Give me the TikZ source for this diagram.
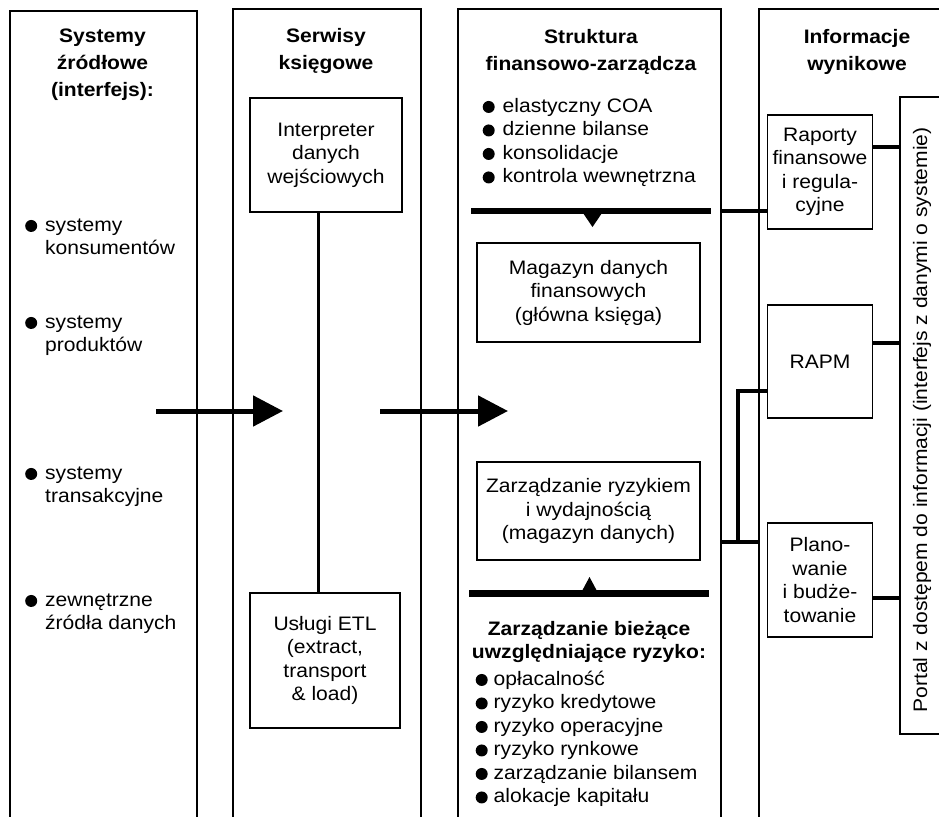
\documentclass[tikz,border=0pt]{standalone}
\usepackage{fontspec}
\setmainfont{Liberation Sans}[FakeStretch=1.08]
\usetikzlibrary{arrows.meta,positioning,calc}

\newcommand{\txtsize}{\fontsize{19.5}{23.5}\selectfont}
\newcommand{\bul}{\tikz[baseline=-5.5pt]\fill (0pt,0pt) circle[radius=6pt];}

\begin{document}
\begin{tikzpicture}[
  x=1pt, y=-1pt,
  col/.style={draw, line width=1.6pt, anchor=north west, inner sep=0pt, minimum height=830pt},
  head/.style={align=center, font=\bfseries\fontsize{19.5}{27}\selectfont},
  box/.style={draw, line width=1.6pt, align=center, inner sep=0pt, font=\txtsize},
  item/.style={anchor=west, inner sep=0pt, font=\txtsize},
  link/.style={line width=3.5pt},
  bar/.style={line width=6.5pt},
  flow/.style={line width=5pt, -{Triangle[length=30pt, width=30pt]}},
]
  \useasboundingbox (0,0) rectangle (939,816);
  \clip (0,0) rectangle (939,816);

  % columns
  \node[col, minimum width=187pt] (src) at (9,10) {};
  \node[col, minimum width=188pt] (acc) at (232,8) {};
  \node[col, minimum width=263pt] (fin) at (457,8) {};
  \node[col, minimum width=200pt] (out) at (758,8) {};

  \node[head] (srchead) at (102.5,65) {Systemy\\źródłowe\\(interfejs):};
  \node[head] (acchead) at (326,51.5) {Serwisy\\księgowe};
  \node[head] (finhead) at (591,51.5) {Struktura\\finansowo-zarządcza};
  \node[head] (outhead) at (857,51.5) {Informacje\\wynikowe};

  % source systems
  \node[item] (cons) at (25,238.5) {\begin{tabular}{@{}l@{\hspace{8pt}}l@{}}\bul & systemy\\ & konsumentów\end{tabular}};
  \node[item] (prod) at (25,335.5) {\begin{tabular}{@{}l@{\hspace{8pt}}l@{}}\bul & systemy\\ & produktów\end{tabular}};
  \node[item] (trans) at (25,486.5) {\begin{tabular}{@{}l@{\hspace{8pt}}l@{}}\bul & systemy\\ & transakcyjne\end{tabular}};
  \node[item] (ext) at (25,613.5) {\begin{tabular}{@{}l@{\hspace{8pt}}l@{}}\bul & zewnętrzne\\ & źródła danych\end{tabular}};

  % accounting services
  \node[box, minimum width=152pt, minimum height=114pt] (intp) at (326,155) {Interpreter\\danych\\wejściowych};
  \node[box, minimum width=150pt, minimum height=135pt] (etl) at (325,660.5) {Usługi ETL\\(extract,\\transport\\\& load)};
  \draw[line width=3pt] ([xshift=-8pt]intp.south) -- ([xshift=-7pt]etl.north);

  % main flow
  \coordinate (f1s) at (156,411);
  \coordinate (f1e) at (283,411);
  \coordinate (f2s) at (380,411);
  \coordinate (f2e) at (508,411);
  \draw[flow] (f1s) -- (f1e);
  \draw[flow] (f2s) -- (f2e);

  % finance structure
  \node[item] (feat) at (482.5,143) {\begin{tabular}{@{}l@{\hspace{8pt}}l@{}}\bul & elastyczny COA\\ \bul & dzienne bilanse\\ \bul & konsolidacje\\ \bul & kontrola wewnętrzna\end{tabular}};
  \coordinate (tb) at (471,211);
  \draw[bar] (tb) -- (711,211);
  \fill (583,213) -- (602,213) -- (592.5,227) -- cycle;
  \node[box, minimum width=223pt, minimum height=99pt] (mag) at (588.5,292.5) {Magazyn danych\\finansowych\\(główna księga)};
  \node[box, minimum width=223pt, minimum height=98pt] (risk) at (588.5,511) {Zarządzanie ryzykiem\\i wydajnością\\(magazyn danych)};
  \coordinate (bb) at (469,593.5);
  \draw[bar] (bb) -- (709,593.5);
  \fill (582,591) -- (597,591) -- (589.5,577) -- cycle;
  \node[head, font=\bfseries\fontsize{19.5}{23}\selectfont] (riskhead) at (589,641.5) {Zarządzanie bieżące\\uwzględniające ryzyko:};
  \node[item] (riskl) at (475.5,739.5) {\begin{tabular}{@{}l@{\hspace{6pt}}l@{}}\bul & opłacalność\\ \bul & ryzyko kredytowe\\ \bul & ryzyko operacyjne\\ \bul & ryzyko rynkowe\\ \bul & zarządzanie bilansem\\ \bul & alokacje kapitału\end{tabular}};

  % output information
  \node[box, minimum width=105pt, minimum height=114pt] (rap) at (820,172) {Raporty\\finansowe\\i regula-\\cyjne};
  \node[box, minimum width=105pt, minimum height=113pt] (rapm) at (820,361.5) {RAPM};
  \node[box, minimum width=105pt, minimum height=114pt] (plan) at (820,580) {Plano-\\wanie\\i budże-\\towanie};
  \node[draw, line width=1.6pt, anchor=north west, inner sep=0pt, minimum width=80pt, minimum height=637pt] (portal) at (899,96) {};
  \node[rotate=90, font=\txtsize] (portaltxt) at (922,420) {Portal z dostępem do informacji (interfejs z danymi o systemie)};

  \draw[link] (fin.east |- tb) -- (rap.west |- tb);
  \draw[link] ([yshift=25pt]rap.east) -- ([yshift=25pt]rap.east -| portal.west);
  \draw[link] ([yshift=18.5pt]rapm.east) -- ([yshift=18.5pt]rapm.east -| portal.west);
  \draw[link] ([yshift=-18pt]plan.east) -- ([yshift=-18pt]plan.east -| portal.west);
  \coordinate (jn) at (738,542);
  \draw[link] (fin.east |- jn) -- (out.west |- jn);
  \draw[link] (jn) |- ([yshift=-29.5pt]rapm.west);
\end{tikzpicture}
\end{document}
